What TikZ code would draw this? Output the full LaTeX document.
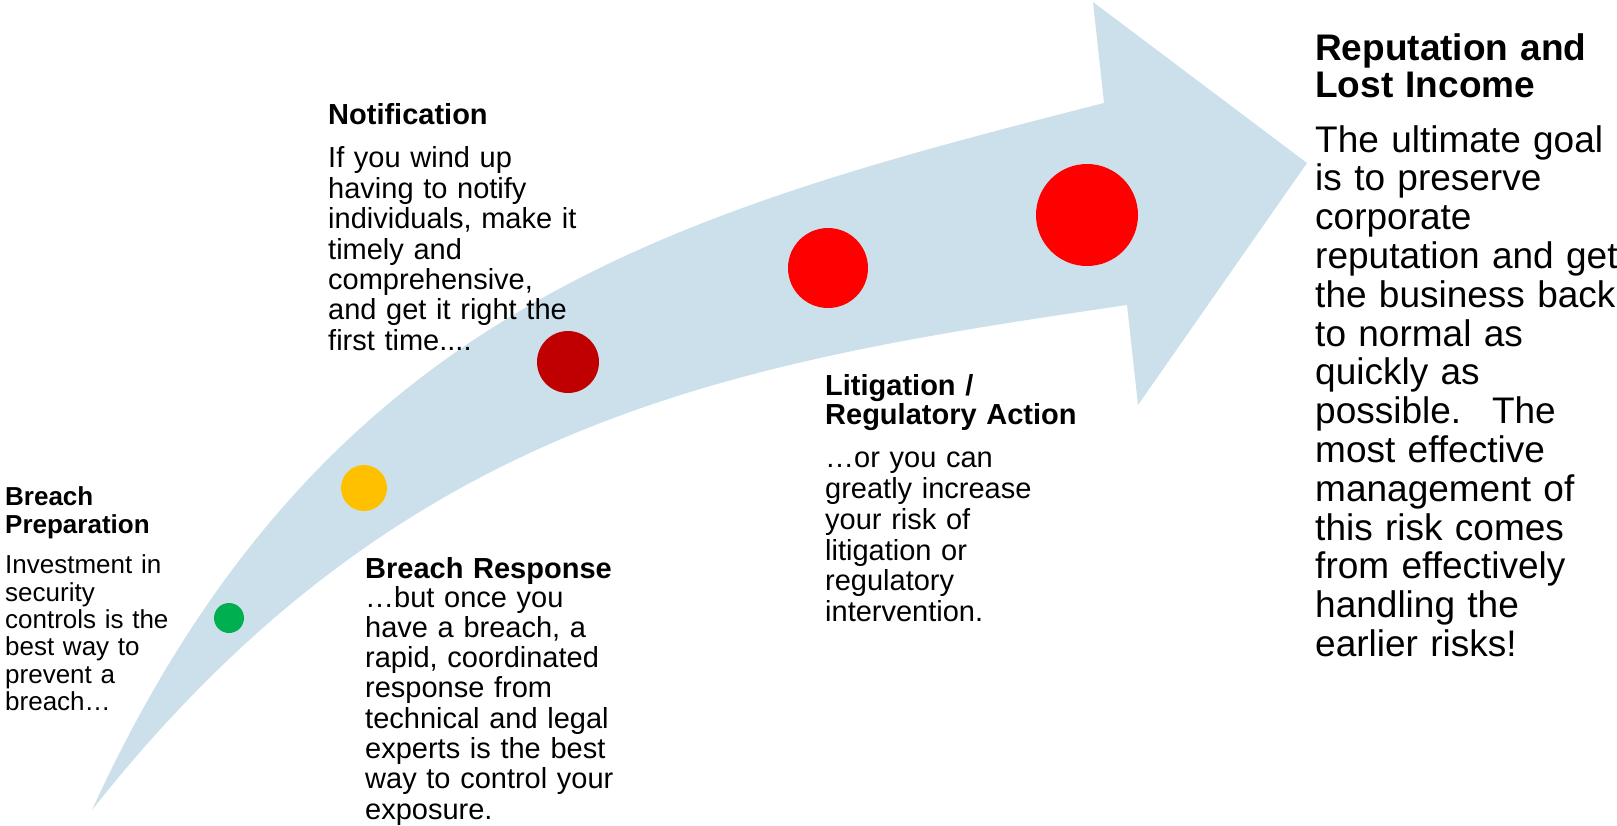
\documentclass[tikz,border=0pt]{standalone}
\usepackage{fontspec}
\setmainfont{Liberation Sans}
\usepackage{tikz}

\definecolor{arrowblue}{RGB}{204,224,235}
\definecolor{dotgreen}{RGB}{0,176,80}
\definecolor{dotyellow}{RGB}{255,192,0}
\definecolor{dotdarkred}{RGB}{192,0,0}
\definecolor{dotred}{RGB}{255,0,0}

\begin{document}
\begin{tikzpicture}[x=1pt, y=-1pt,
    blurb/.style={anchor=base west, inner sep=0pt, text width=400pt, align=left},
    dot/.style={circle, fill=#1, inner sep=0pt}]
    \useasboundingbox (0,0) rectangle (1617,825);

    % seta curva
    \fill[arrowblue] (92,810) .. controls (321,310) and (668,214) .. (1104,103)
        -- (1093,2) -- (1307,163) -- (1138,405) -- (1127,305)
        .. controls (731,363) and (402,418) .. (92,810) -- cycle;

    % pontos ao longo da seta
    \node[dot=dotgreen, minimum size=30pt] (prepdot) at (229,618) {};
    \node[dot=dotyellow, minimum size=46pt] (respdot) at (364,488) {};
    \node[dot=dotdarkred, minimum size=62pt] (notifdot) at (568,362) {};
    \node[dot=dotred, minimum size=80pt] (litdot) at (828,268) {};
    \node[dot=dotred, minimum size=102pt] (repdot) at (1087,215) {};

    % textos
    \node[blurb, font=\fontsize{26}{27.4}\selectfont] (prep) at (5,505)
        {\textbf{Breach}\\[0.6pt] \textbf{Preparation}\\[13.3pt]
        Investment in\\ security\\ controls is the\\ best way to\\ prevent a\\ breach…};

    \node[blurb, font=\fontsize{29}{30.4}\selectfont] (notif) at (328,124)
        {\textbf{Notification}\\[13.4pt]
        If you wind up\\ having to notify\\ individuals, make it\\ timely and\\
        comprehensive,\\ and get it right the\\ first time....};

    \node[blurb, font=\fontsize{29}{30.3}\selectfont] (resp) at (365,578)
        {\textbf{Breach Response}\\[-1.3pt]
        …but once you\\ have a breach, a\\ rapid, coordinated\\ response from\\
        technical and legal\\ experts is the best\\ way to control your\\ exposure.};

    \node[blurb, font=\fontsize{29}{30.9}\selectfont] (lit) at (825,395)
        {\textbf{Litigation /}\\[-1.5pt] \textbf{Regulatory Action}\\[12pt]
        …or you can\\ greatly increase\\ your risk of\\ litigation or\\
        regulatory\\ intervention.};

    \node[blurb, font=\fontsize{37}{38.8}\selectfont] (rep) at (1315,60)
        {\textbf{Reputation and}\\[-1pt] \textbf{Lost Income}\\[15.5pt]
        The ultimate goal\\ is to preserve\\ corporate\\ reputation and get\\
        the business back\\ to normal as\\ quickly as\\ possible.~ The\\
        most effective\\ management of\\ this risk comes\\ from effectively\\
        handling the\\ earlier risks!};

\end{tikzpicture}
\end{document}
